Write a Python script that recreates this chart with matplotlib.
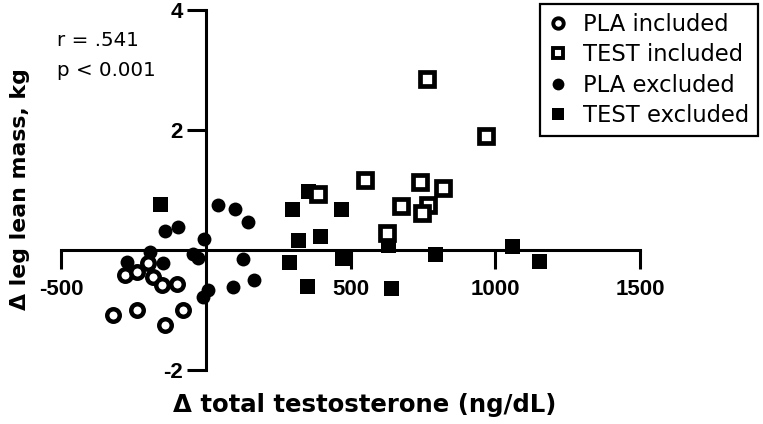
import matplotlib
matplotlib.use("Agg")
import matplotlib.pyplot as plt
from matplotlib.lines import Line2D

# ---- data ----
pla_inc_x = [-319, -239, -141, -78, -279, -239, -198, -181, -152, -100]
pla_inc_y = [-1.08, -1.00, -1.25, -1.00, -0.42, -0.36, -0.22, -0.45, -0.58, -0.56]

pla_exc_x = [43, 101, 147, -141, -95, -6, -193, -43, -26, -273, -147, 130, 167, 95, 9, -8]
pla_exc_y = [0.75, 0.69, 0.47, 0.31, 0.38, 0.18, -0.03, -0.06, -0.14, -0.20, -0.22,
             -0.15, -0.50, -0.62, -0.67, -0.79]

test_inc_x = [550, 740, 821, 389, 673, 769, 746, 625, 967, 764]
test_inc_y = [1.16, 1.14, 1.04, 0.94, 0.74, 0.75, 0.62, 0.29, 1.90, 2.85]

test_exc_x = [-158, 354, 297, 467, 320, 395, 288, 470, 631, 792, 349, 640, 1057, 1151]
test_exc_y = [0.77, 0.99, 0.68, 0.68, 0.17, 0.23, -0.20, -0.14, 0.08, -0.07, -0.60,
              -0.63, 0.06, -0.19]

x_ticks = [-500, 500, 1000, 1500]
x_ticklabels = ["-500", "500", "1000", "1500"]
y_ticks = [-2, 2, 4]
y_ticklabels = ["-2", "2", "4"]

legend_labels = ["PLA included", "TEST included", "PLA excluded", "TEST excluded"]
xlabel = "\u0394 total testosterone (ng/dL)"
ylabel = "\u0394 leg lean mass, kg"
stats_text = ["r = .541", "p < 0.001"]

# ---- figure ----
W, H = 763, 424
fig = plt.figure(figsize=(W / 100, H / 100), dpi=100)
ax = fig.add_axes([0, 0, 1, 1])
ax.set_facecolor("none")

# pixel calibration: px = 205.75 + 0.2895*x ; py(from top) = 250 - 60*y
ax.set_xlim((0 - 205.75) / 0.2895, (W - 205.75) / 0.2895)
ax.set_ylim((250 - H) / 60.0, 250 / 60.0)

for s in ["top", "right"]:
    ax.spines[s].set_visible(False)
lw_ax = 2.2
ax.spines["left"].set_position(("data", 0))
ax.spines["bottom"].set_position(("data", 0))
ax.spines["left"].set_bounds(-2, 4)
ax.spines["bottom"].set_bounds(-500, 1500)
ax.spines["left"].set_linewidth(lw_ax)
ax.spines["bottom"].set_linewidth(lw_ax)
ax.spines["left"].set_capstyle("projecting")
ax.spines["bottom"].set_capstyle("projecting")

tick_font = dict(family="Liberation Sans", weight="bold", size=16)
ax.set_xticks(x_ticks)
ax.set_xticklabels(x_ticklabels, fontdict=tick_font)
ax.set_yticks(y_ticks)
ax.set_yticklabels(y_ticklabels, fontdict=tick_font)
ax.tick_params(axis="x", direction="out", length=14, width=lw_ax, pad=7)
ax.tick_params(axis="y", direction="out", length=13.5, width=lw_ax, pad=3)

# data markers (filled first, open on top)
ax.plot(pla_exc_x, pla_exc_y, linestyle="none", marker="o", markersize=10,
        markerfacecolor="black", markeredgecolor="black", markeredgewidth=0, zorder=3)
ax.plot(test_exc_x, test_exc_y, linestyle="none", marker="s", markersize=10.8,
        markerfacecolor="black", markeredgecolor="black", markeredgewidth=0, zorder=3)
ax.plot(pla_inc_x, pla_inc_y, linestyle="none", marker="o", markersize=9,
        markerfacecolor="white", markeredgecolor="black", markeredgewidth=3.2, zorder=4)
ax.plot(test_inc_x, test_inc_y, linestyle="none", marker="s", markersize=9.4,
        markerfacecolor="white", markeredgecolor="black", markeredgewidth=3.4, zorder=4)

# stats text
fig.text(57 / W, 1 - 40 / H, stats_text[0], family="DejaVu Sans", size=14.3,
         ha="left", va="center")
fig.text(57 / W, 1 - 70 / H, stats_text[1], family="DejaVu Sans", size=14.3,
         ha="left", va="center")

# axis labels
fig.text(365 / W, 1 - 405 / H, xlabel, family="DejaVu Sans", weight="bold",
         size=17.6, ha="center", va="center")
fig.text(20 / W, 1 - 189 / H, ylabel, family="DejaVu Sans", weight="bold",
         size=15.8, ha="center", va="center", rotation=90)

# legend
handles = [
    Line2D([], [], linestyle="none", marker="o", markersize=7.5, markerfacecolor="white",
           markeredgecolor="black", markeredgewidth=2.8),
    Line2D([], [], linestyle="none", marker="s", markersize=7.5, markerfacecolor="white",
           markeredgecolor="black", markeredgewidth=2.8),
    Line2D([], [], linestyle="none", marker="o", markersize=8.5, markerfacecolor="black",
           markeredgecolor="black", markeredgewidth=0),
    Line2D([], [], linestyle="none", marker="s", markersize=8.5, markerfacecolor="black",
           markeredgecolor="black", markeredgewidth=0),
]
leg = fig.legend(handles, legend_labels, loc="upper left",
                 bbox_to_anchor=(540 / W, 1 - 4 / H), frameon=True, fancybox=False,
                 prop=dict(family="DejaVu Sans", size=16.3), borderpad=0.4,
                 labelspacing=0.32, handlelength=0.8, handletextpad=0.68,
                 borderaxespad=0, framealpha=1)
leg.get_frame().set_edgecolor("black")
leg.get_frame().set_linewidth(1.6)

fig.savefig("out.png", dpi=100)
